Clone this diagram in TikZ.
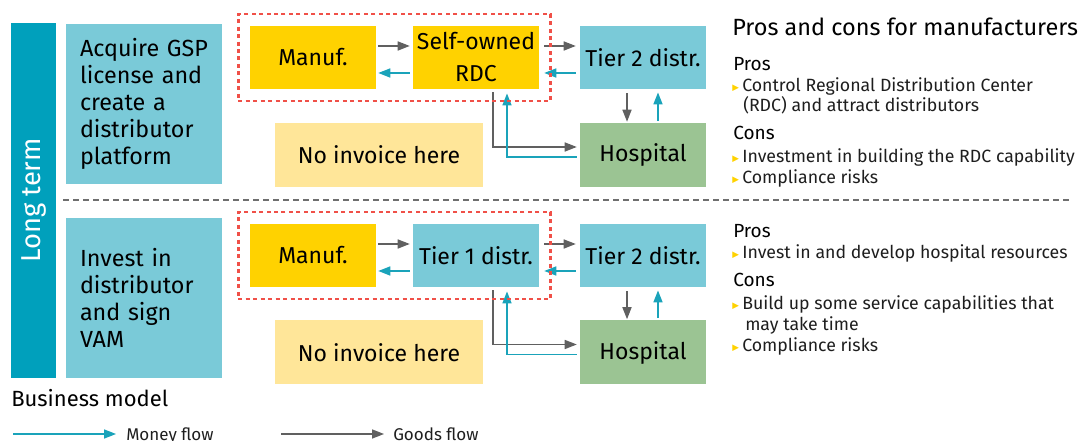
\documentclass[tikz,border=0pt]{standalone}
\usepackage{fontspec}
\setmainfont{Fira Sans}
\newfontfamily\symfont{DejaVu Sans}
\usetikzlibrary{calc,arrows.meta,fit}

\definecolor{barteal}{RGB}{0,160,188}
\definecolor{lightblue}{RGB}{122,202,216}
\definecolor{gold}{RGB}{255,210,0}
\definecolor{paleyellow}{RGB}{255,230,153}
\definecolor{sage}{RGB}{155,196,147}
\definecolor{reddash}{RGB}{240,80,72}
\definecolor{moneyc}{RGB}{26,163,186}
\definecolor{goodsc}{RGB}{96,96,96}
\definecolor{divider}{RGB}{110,110,110}
\definecolor{bodytext}{RGB}{30,30,30}

\newcommand\bul{{\symfont\color{gold}\fontsize{6.5}{7}\selectfont\raisebox{1pt}{▶}}\hspace{2.5pt}}

\tikzset{
  box/.style={inner sep=0pt, text=black, font=\fontsize{17.25}{24}\selectfont, align=center},
  flowbox/.style={box, minimum width=94.5pt, minimum height=47.5pt},
  wide/.style={box, minimum width=156pt, minimum height=48pt},
  sidebox/.style={box, fill=lightblue, minimum width=117pt, minimum height=120pt,
    font=\fontsize{17.5}{20.25}\selectfont, align=left, text width=96pt},
  redframe/.style={draw=reddash, line width=1.9pt, dash pattern=on 3pt off 2.6pt, inner sep=8.6pt},
  goods/.style={draw=goodsc, line width=1.1pt, -{Triangle[length=9pt,width=6.8pt]}},
  money/.style={draw=moneyc, line width=1.1pt, -{Triangle[length=9pt,width=6.8pt]}},
  title/.style={anchor=base west, inner sep=0pt, font=\fontsize{17.6}{20}\selectfont},
  head/.style={anchor=base west, inner sep=0pt, font=\fontsize{14.25}{16}\selectfont},
  item/.style={anchor=base west, inner sep=0pt, text=bodytext, font=\fontsize{13.3}{15}\selectfont},
  legend/.style={anchor=base west, inner sep=0pt, text=bodytext, font=\fontsize{12.75}{14}\selectfont}
}

\begin{document}
\begin{tikzpicture}[x=0.75pt, y=-0.75pt]
\useasboundingbox (0,0) rectangle (1089,441);

% vertical band
\node[inner sep=0pt, fill=barteal, minimum width=33.75pt, minimum height=266.25pt] (band) at (33.5,200.5) {};
\node[rotate=90, text=white, font=\fontsize{20.5}{22}\selectfont] (bandlabel) at (band.center) {Long term};

% strategy boxes
\node[sidebox] (stratA) at (144,104) {Acquire GSP\\license and\\create a\\distributor\\platform};
\node[sidebox] (stratB) at (144,298) {Invest in\\distributor\\and sign\\VAM};

% section divider
\coordinate (divL) at (63,200);
\coordinate (divR) at (1072,200);
\draw[divider, line width=0.9pt, dash pattern=on 4.5pt off 3pt] (divL) -- (divR);

% ---- upper model ----
\node[flowbox, fill=gold] (manA) at (313,57.5) {Manuf.};
\node[flowbox, fill=gold] (rdc) at (476,57.5) {Self-owned\\RDC};
\node[flowbox, fill=lightblue] (tA) at (643,57.5) {Tier 2 distr.};
\node[wide, fill=paleyellow] (noA) at (379,155) {No invoice here};
\node[flowbox, fill=sage, minimum height=48pt] (hA) at (643,155) {Hospital};

\draw[goods] ($(manA.east)+(2,-11.5)$) -- ($(rdc.west)+(-3,-11.5)$);
\draw[money] ($(rdc.west)+(-3,15.5)$) -- ($(manA.east)+(2,15.5)$);
\draw[goods] ($(rdc.east)+(5,-11.5)$) -- ($(tA.west)+(-4,-11.5)$);
\draw[money] ($(tA.west)+(-4,15.5)$) -- ($(rdc.east)+(5,15.5)$);
\draw[goods] ($(tA.south)+(-16,4)$) -- ($(hA.north)+(-16,-1)$);
\draw[money] ($(hA.north)+(15,-2)$) -- ($(tA.south)+(15,3)$);
\draw[goods] ($(rdc.south)+(17,3)$) |- ($(hA.west)+(-3,-8)$);
\draw[money] ($(hA.west)+(-3,2)$) -| ($(rdc.south)+(31,4)$);

\node[redframe, fit=(manA)(rdc)] (grpA) {};

% ---- lower model ----
\node[flowbox, fill=gold] (manB) at (313,255.5) {Manuf.};
\node[flowbox, fill=lightblue] (tOne) at (476,255.5) {Tier 1 distr.};
\node[flowbox, fill=lightblue] (tB) at (643,255.5) {Tier 2 distr.};
\node[wide, fill=paleyellow] (noB) at (379,352.5) {No invoice here};
\node[flowbox, fill=sage, minimum height=48pt] (hB) at (643,352.5) {Hospital};

\draw[goods] ($(manB.east)+(2,-11.5)$) -- ($(tOne.west)+(-3,-11.5)$);
\draw[money] ($(tOne.west)+(-3,15.5)$) -- ($(manB.east)+(2,15.5)$);
\draw[goods] ($(tOne.east)+(5,-11.5)$) -- ($(tB.west)+(-4,-11.5)$);
\draw[money] ($(tB.west)+(-4,15.5)$) -- ($(tOne.east)+(5,15.5)$);
\draw[goods] ($(tB.south)+(-16,4)$) -- ($(hB.north)+(-16,-1)$);
\draw[money] ($(hB.north)+(15,-2)$) -- ($(tB.south)+(15,3)$);
\draw[goods] ($(tOne.south)+(17,3)$) |- ($(hB.west)+(-3,-8)$);
\draw[money] ($(hB.west)+(-3,2)$) -| ($(tOne.south)+(31,4)$);

\node[redframe, fit=(manB)(tOne)] (grpB) {};

% ---- pros and cons ----
\node[title] (pcTitle) at (732,36) {Pros and cons for manufacturers};
\node[head] (prosA) at (733,71) {Pros};
\node[item] (prosA1) at (732,92) {\bul Control Regional Distribution Center};
\node[item] (prosA1b) at (743,112) {(RDC) and attract distributors};
\node[head] (consA) at (733,140) {Cons};
\node[item] (consA1) at (732,163) {\bul Investment in building the RDC capability};
\node[item] (consA2) at (732,184) {\bul Compliance risks};

\node[head] (prosB) at (733,238) {Pros};
\node[item] (prosB1) at (732,259) {\bul Invest in and develop hospital resources};
\node[head] (consB) at (733,287) {Cons};
\node[item] (consB1) at (732,310) {\bul Build up some service capabilities that};
\node[item] (consB1b) at (745,331) {may take time};
\node[item] (consB2) at (732,352) {\bul Compliance risks};

% ---- legend ----
\node[anchor=base west, inner sep=0pt, font=\fontsize{16.5}{18}\selectfont] (bm) at (11,407) {Business model};
\coordinate (lm0) at (13,434);
\coordinate (lm1) at (116,434);
\draw[money] (lm0) -- (lm1);
\node[legend] (lmText) at (126,440.5) {Money flow};
\coordinate (lg0) at (281,434);
\coordinate (lg1) at (384,434);
\draw[goods] (lg0) -- (lg1);
\node[legend] (lgText) at (393,440.5) {Goods flow};
\end{tikzpicture}
\end{document}
